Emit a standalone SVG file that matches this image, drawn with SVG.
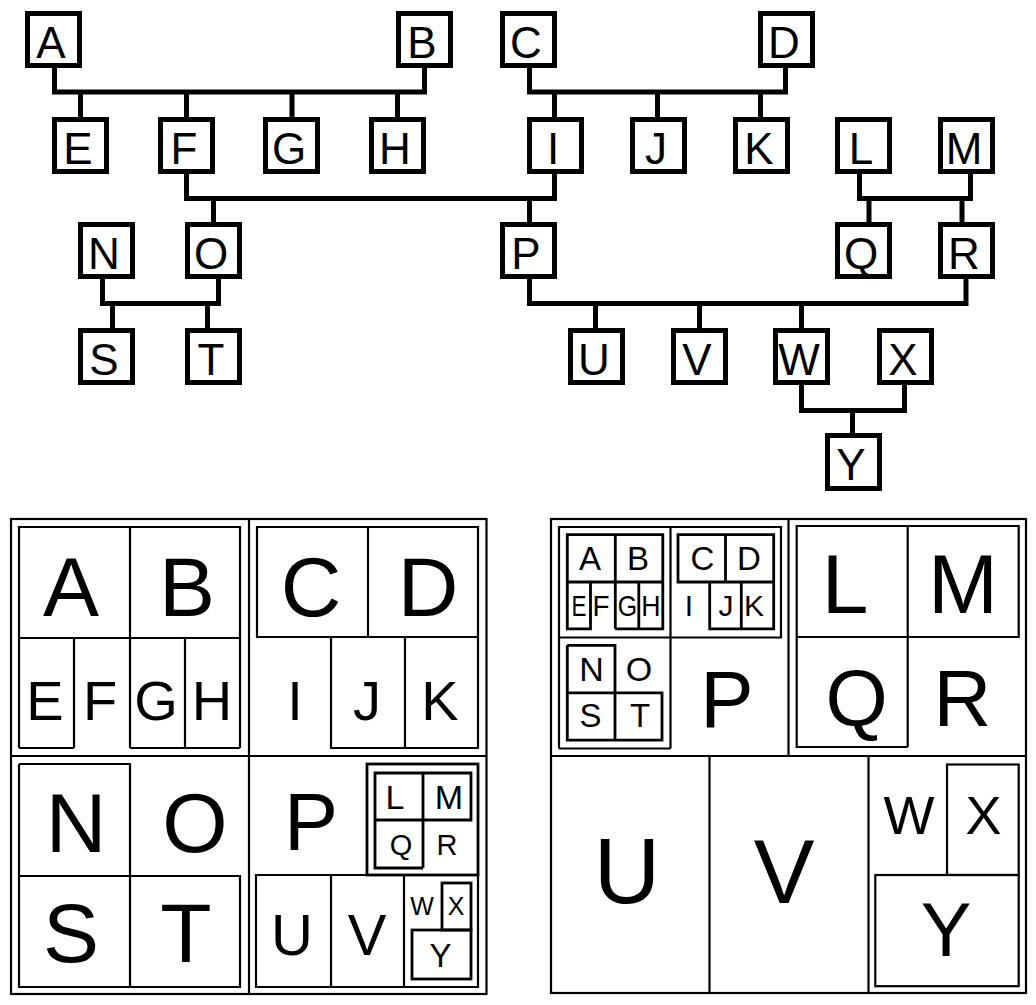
<svg xmlns="http://www.w3.org/2000/svg" width="1036" height="1005" viewBox="0 0 1036 1005">
<style>
.box{fill:#fff;stroke:#000;stroke-width:5}
.lbl{font-family:"Liberation Sans",Arial,sans-serif;font-size:44px;text-anchor:middle;fill:#000}
.con{fill:none;stroke:#000;stroke-width:5;stroke-linejoin:miter;stroke-linecap:butt}
.tm{fill:none;stroke:#000;stroke-width:2.2}
.tm2{fill:none;stroke:#000;stroke-width:2.8}
.t{font-family:"Liberation Sans",Arial,sans-serif;text-anchor:middle;fill:#000}
</style>
<rect width="1036" height="1005" fill="#fff"/>
<g id="connectors">
<path class="con" d="M54.5,66 V92 H424.5 V66 M80.5,92 V119 M186.5,92 V119 M292,92 V119 M397.5,92 V119"/>
<path class="con" d="M529.5,66 V92 H785.5 V66 M554.5,92 V119 M657.5,92 V119 M760.5,92 V119"/>
<path class="con" d="M186.5,172 V198.5 H554.5 V172 M213.5,198.5 V224 M529.5,198.5 V224"/>
<path class="con" d="M859.5,172 V198.5 H970.5 V172 M869,198.5 V224 M962,198.5 V224"/>
<path class="con" d="M102.5,277 V303.5 H218.5 V277 M112.5,303.5 V330 M207.5,303.5 V330"/>
<path class="con" d="M529.5,277 V303.5 H966 V277 M595.5,303.5 V330 M699.5,303.5 V330 M801.5,303.5 V330"/>
<path class="con" d="M801.5,383 V410.5 H904.5 V383 M852.5,410.5 V435"/>
</g>
<g id="node-A"><rect class="box" x="27.5" y="13.5" width="52" height="52"/><text class="lbl" x="51" y="58">A</text></g>
<g id="node-B"><rect class="box" x="398.5" y="13.5" width="52" height="52"/><text class="lbl" x="422" y="58">B</text></g>
<g id="node-C"><rect class="box" x="502.5" y="13.5" width="52" height="52"/><text class="lbl" x="526" y="58">C</text></g>
<g id="node-D"><rect class="box" x="760.5" y="13.5" width="52" height="52"/><text class="lbl" x="784" y="58">D</text></g>
<g id="node-E"><rect class="box" x="54.5" y="119.5" width="52" height="52"/><text class="lbl" x="78" y="164">E</text></g>
<g id="node-F"><rect class="box" x="160.5" y="119.5" width="52" height="52"/><text class="lbl" x="184" y="164">F</text></g>
<g id="node-G"><rect class="box" x="265.5" y="119.5" width="52" height="52"/><text class="lbl" x="289" y="164">G</text></g>
<g id="node-H"><rect class="box" x="371.5" y="119.5" width="52" height="52"/><text class="lbl" x="395" y="164">H</text></g>
<g id="node-I"><rect class="box" x="529.5" y="119.5" width="52" height="52"/><text class="lbl" x="553" y="164">I</text></g>
<g id="node-J"><rect class="box" x="632.5" y="119.5" width="52" height="52"/><text class="lbl" x="656" y="164">J</text></g>
<g id="node-K"><rect class="box" x="735.5" y="119.5" width="52" height="52"/><text class="lbl" x="759" y="164">K</text></g>
<g id="node-L"><rect class="box" x="837.5" y="119.5" width="52" height="52"/><text class="lbl" x="861" y="164">L</text></g>
<g id="node-M"><rect class="box" x="940.5" y="119.5" width="52" height="52"/><text class="lbl" x="964" y="164">M</text></g>
<g id="node-N"><rect class="box" x="80.5" y="224.5" width="52" height="52"/><text class="lbl" x="104" y="269">N</text></g>
<g id="node-O"><rect class="box" x="187.5" y="224.5" width="52" height="52"/><text class="lbl" x="211" y="269">O</text></g>
<g id="node-P"><rect class="box" x="502.5" y="224.5" width="52" height="52"/><text class="lbl" x="526" y="269">P</text></g>
<g id="node-Q"><rect class="box" x="837.5" y="224.5" width="52" height="52"/><text class="lbl" x="861" y="269">Q</text></g>
<g id="node-R"><rect class="box" x="940.5" y="224.5" width="52" height="52"/><text class="lbl" x="964" y="269">R</text></g>
<g id="node-S"><rect class="box" x="80.5" y="330.5" width="52" height="52"/><text class="lbl" x="104" y="375">S</text></g>
<g id="node-T"><rect class="box" x="187.5" y="330.5" width="52" height="52"/><text class="lbl" x="211" y="375">T</text></g>
<g id="node-U"><rect class="box" x="570.5" y="330.5" width="52" height="52"/><text class="lbl" x="594" y="375">U</text></g>
<g id="node-V"><rect class="box" x="673.5" y="330.5" width="52" height="52"/><text class="lbl" x="697" y="375">V</text></g>
<g id="node-W"><rect class="box" x="775.5" y="330.5" width="52" height="52"/><text class="lbl" x="799" y="375">W</text></g>
<g id="node-X"><rect class="box" x="879.5" y="330.5" width="52" height="52"/><text class="lbl" x="903" y="375">X</text></g>
<g id="node-Y"><rect class="box" x="827.5" y="435.5" width="52" height="53"/><text class="lbl" x="851" y="480">Y</text></g>

<g id="treemap-left">
<rect class="tm" x="11" y="519" width="475.5" height="475"/>
<path class="tm" d="M249,519 V994 M11,756 H486.5"/>
<path class="tm" d="M19,748 V527 H240 V748 M19,638 H240 M130,527 V748 M74,638 V748 M19,748 H74 M130,748 H240 M185,638 V748"/>
<text class="t" x="71" y="616" font-size="84">A</text>
<text class="t" x="187" y="616" font-size="84">B</text>
<text class="t" x="45" y="720" font-size="56">E</text>
<text class="t" x="100" y="720" font-size="56">F</text>
<text class="t" x="156" y="720" font-size="56">G</text>
<text class="t" x="212" y="720" font-size="56">H</text>
<path class="tm" d="M257,527 H478 V637 H257 Z M368,527 V637 M331,637 V748 H478 V637 M405,637 V748"/>
<text class="t" x="311" y="616" font-size="84">C</text>
<text class="t" x="428" y="616" font-size="84">D</text>
<text class="t" x="295" y="720" font-size="56">I</text>
<text class="t" x="367" y="720" font-size="56">J</text>
<text class="t" x="440" y="720" font-size="56">K</text>
<path class="tm" d="M19,764 H130 V876 M19,764 V987 H240 V876 H19 M130,876 V987"/>
<text class="t" x="76" y="852" font-size="84">N</text>
<text class="t" x="195" y="852" font-size="84">O</text>
<text class="t" x="71" y="962" font-size="84">S</text>
<text class="t" x="186" y="962" font-size="84">T</text>
<rect class="tm2" x="367" y="764" width="111" height="111"/>
<path class="tm2" d="M375,773 H471 V820 H375 Z M423,773 V868 M375,820 V868 H423"/>
<text class="t" x="395" y="809" font-size="34">L</text>
<text class="t" x="449" y="809" font-size="34">M</text>
<text class="t" x="401" y="855" font-size="29">Q</text>
<text class="t" x="447" y="855" font-size="29">R</text>
<text class="t" x="311" y="850" font-size="81">P</text>
<path class="tm" d="M256,875 H478 V987 H256 Z M331,875 V987 M404,875 V987"/>
<rect class="tm2" x="442" y="883" width="29" height="47"/>
<rect class="tm2" x="412" y="930" width="59" height="49"/>
<text class="t" x="292" y="955" font-size="58">U</text>
<text class="t" x="367" y="955" font-size="58">V</text>
<text class="t" x="422" y="915" font-size="25">W</text>
<text class="t" x="456" y="915" font-size="25">X</text>
<text class="t" x="440.5" y="967" font-size="33">Y</text>
</g>

<g id="treemap-right">
<rect class="tm" x="551" y="519" width="475" height="474"/>
<path class="tm" d="M788.5,519 V756 M551,756 H1026 M709.5,756 V993 M868.5,756 V993"/>
<path class="tm" d="M559,748.5 V527 H781 V637.5 H559 M670.5,527 V748.5 M559,748.5 H670.5"/>
<path class="tm2" d="M567.3,534.7 H662.8 V582 H567.3 Z M615.3,534.7 V628.8 M567.3,582 V628.8 H590.5 V582 M615.3,628.8 H662.8 V582 M638.8,582 V628.8"/>
<path class="tm2" d="M678,534.7 H773.7 V582 H678 Z M725.5,534.7 V582 M709.7,582 V628.8 H773.7 V582 M741.3,582 V628.8"/>
<path class="tm2" d="M567.3,645.3 H615 V692.8 M567.3,645.3 V740.2 H662 V692.8 H567.3 M615,692.8 V740.2"/>
<text class="t" x="590" y="570" font-size="33">A</text>
<text class="t" x="638" y="570" font-size="33">B</text>
<text class="t" x="702.5" y="570" font-size="33">C</text>
<text class="t" x="749" y="570" font-size="33">D</text>
<text class="t" x="579" y="616" font-size="30" textLength="15" lengthAdjust="spacingAndGlyphs">E</text>
<text class="t" x="601" y="616" font-size="30" textLength="17" lengthAdjust="spacingAndGlyphs">F</text>
<text class="t" x="627.5" y="616" font-size="30" textLength="19.4" lengthAdjust="spacingAndGlyphs">G</text>
<text class="t" x="651" y="616" font-size="30" textLength="19.3" lengthAdjust="spacingAndGlyphs">H</text>
<text class="t" x="689" y="616" font-size="30">I</text>
<text class="t" x="726" y="616" font-size="30">J</text>
<text class="t" x="754" y="616" font-size="30">K</text>
<text class="t" x="591.5" y="681" font-size="34">N</text>
<text class="t" x="639" y="681" font-size="34">O</text>
<text class="t" x="590.5" y="727" font-size="33">S</text>
<text class="t" x="640" y="727" font-size="33">T</text>
<text class="t" x="727" y="727" font-size="80">P</text>
<path class="tm" d="M796.7,526 H1018.7 V637 H796.7 Z M907.7,526 V747 M796.7,637 V747 H907.7"/>
<text class="t" x="845" y="613" font-size="84">L</text>
<text class="t" x="963" y="613" font-size="84">M</text>
<text class="t" x="856.5" y="726" font-size="80">Q</text>
<text class="t" x="962.5" y="726" font-size="80">R</text>
<rect class="tm" x="947" y="764.5" width="71.7" height="110.5"/>
<rect class="tm" x="875.3" y="875" width="143.4" height="111.2"/>
<text class="t" x="627" y="903" font-size="92">U</text>
<text class="t" x="784" y="903" font-size="91">V</text>
<text class="t" x="909" y="834" font-size="54">W</text>
<text class="t" x="983.5" y="834" font-size="54">X</text>
<text class="t" x="946" y="956" font-size="76">Y</text>
</g>
</svg>
